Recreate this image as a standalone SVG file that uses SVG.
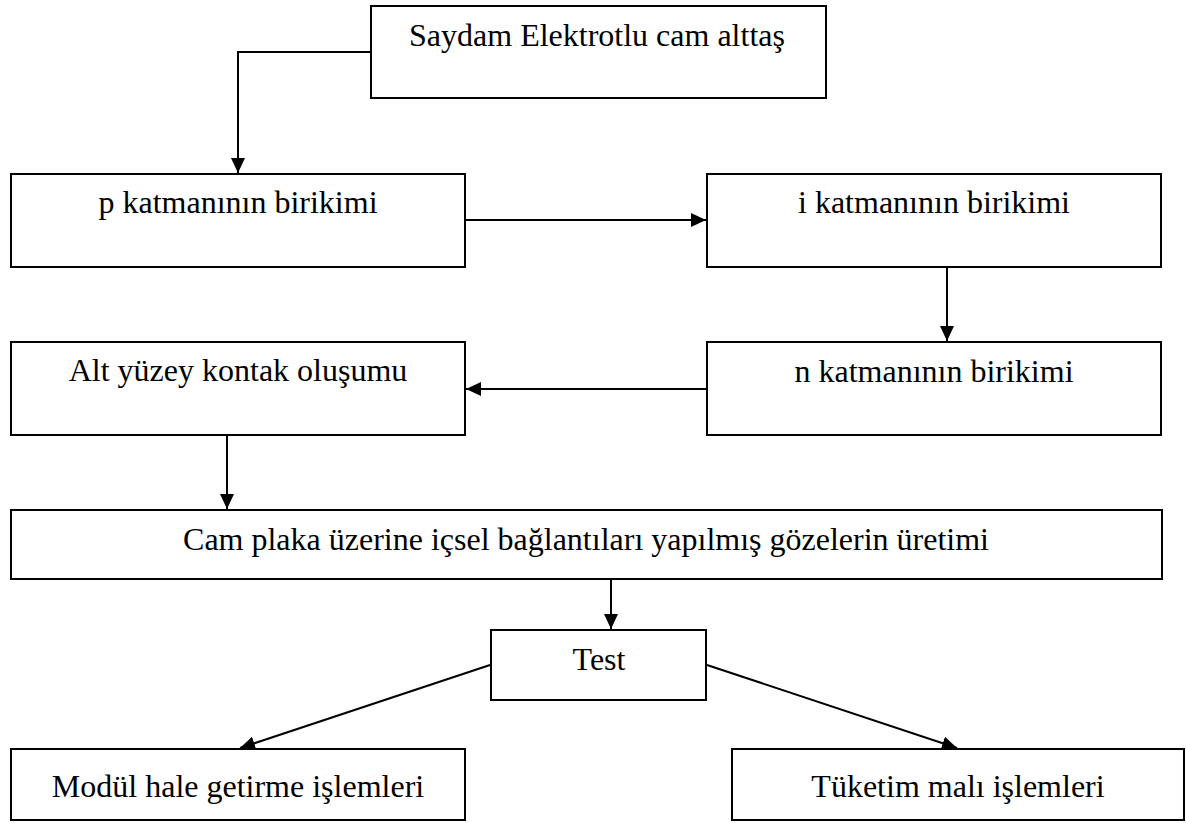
<svg xmlns="http://www.w3.org/2000/svg" width="1186" height="823" viewBox="0 0 1186 823">
<defs>
<style>
.box{fill:#fff;stroke:#000;stroke-width:2}
.lbl{font-family:"Liberation Serif","Times New Roman",serif;font-size:32px;fill:#000;text-anchor:middle}
.con{fill:none;stroke:#000;stroke-width:2}
</style>
<marker id="ah" markerUnits="userSpaceOnUse" markerWidth="16" markerHeight="16" viewBox="0 0 16 16" refX="15" refY="8" orient="auto">
<path d="M0,1 L15,8 L0,15 Z" fill="#000"/>
</marker>
</defs>
<rect width="1186" height="823" fill="#fff"/>
<g id="connectors">
<path class="con" d="M371,52 H238 V173" marker-end="url(#ah)"/>
<path class="con" d="M466,220 H706" marker-end="url(#ah)"/>
<path class="con" d="M947,268 V341" marker-end="url(#ah)"/>
<path class="con" d="M706,389 H466" marker-end="url(#ah)"/>
<path class="con" d="M227,436 V509" marker-end="url(#ah)"/>
<path class="con" d="M611,580 V629" marker-end="url(#ah)"/>
<path class="con" d="M490,665 L240,748" marker-end="url(#ah)"/>
<path class="con" d="M707,665 L957,748" marker-end="url(#ah)"/>
</g>
<g id="n-substrate"><rect class="box" x="371" y="6" width="455" height="92"/><text class="lbl" x="597" y="46">Saydam Elektrotlu cam alttaş</text></g>
<g id="n-p"><rect class="box" x="11" y="174" width="454" height="93"/><text class="lbl" x="238" y="213">p katmanının birikimi</text></g>
<g id="n-i"><rect class="box" x="707" y="174" width="454" height="93"/><text class="lbl" x="934" y="213">i katmanının birikimi</text></g>
<g id="n-alt"><rect class="box" x="11" y="342" width="454" height="93"/><text class="lbl" x="238" y="381">Alt yüzey kontak oluşumu</text></g>
<g id="n-n"><rect class="box" x="707" y="342" width="454" height="93"/><text class="lbl" x="934" y="382">n katmanının birikimi</text></g>
<g id="n-cam"><rect class="box" x="11" y="510" width="1151" height="69"/><text class="lbl" x="586" y="550">Cam plaka üzerine içsel bağlantıları yapılmış gözelerin üretimi</text></g>
<g id="n-test"><rect class="box" x="491" y="630" width="215" height="70"/><text class="lbl" x="599" y="670">Test</text></g>
<g id="n-modul"><rect class="box" x="11" y="749" width="454" height="71"/><text class="lbl" x="238" y="797">Modül hale getirme işlemleri</text></g>
<g id="n-tuketim"><rect class="box" x="732" y="749" width="452" height="71"/><text class="lbl" x="958" y="797">Tüketim malı işlemleri</text></g>
</svg>
